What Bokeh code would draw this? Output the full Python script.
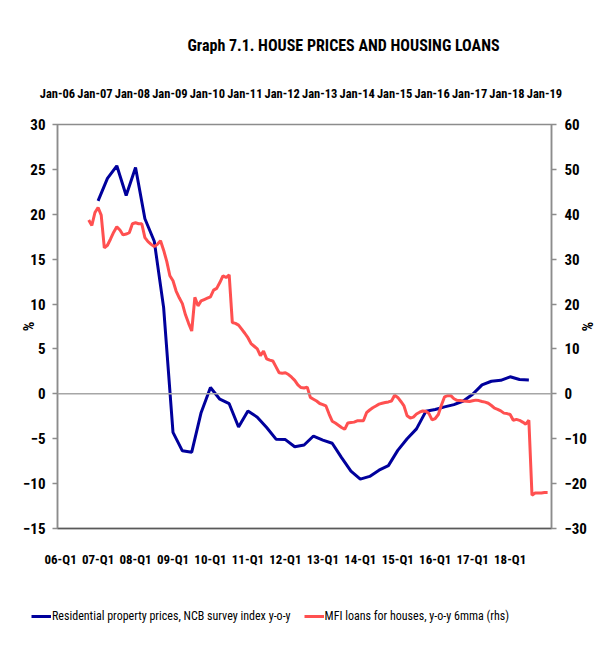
from bokeh.plotting import figure
from bokeh.models import Range1d, LinearAxis, FixedTicker, Span, Legend, LegendItem
from bokeh.embed import file_html
from bokeh.resources import INLINE

FONT = "Roboto Condensed, DejaVu Sans Condensed, Lato"

# ---- data (time axis in months since Jan-2006) ----
top_labels = ["Jan-06", "Jan-07", "Jan-08", "Jan-09", "Jan-10", "Jan-11", "Jan-12",
              "Jan-13", "Jan-14", "Jan-15", "Jan-16", "Jan-17", "Jan-18", "Jan-19"]
bottom_labels = ["06-Q1", "07-Q1", "08-Q1", "09-Q1", "10-Q1", "11-Q1", "12-Q1",
                 "13-Q1", "14-Q1", "15-Q1", "16-Q1", "17-Q1", "18-Q1"]

# Residential property prices, quarterly 2007-Q1 .. 2018-Q3 (y-o-y %)
house_first_quarter = (2007, 1)
house_prices = [21.5, 24.0, 25.4, 22.1, 25.2, 19.5, 17.0, 9.6, -4.3, -6.35,
                -6.5, -2.1, 0.7, -0.6, -1.1, -3.7, -1.9, -2.6, -3.75, -5.05,
                -5.1, -5.9, -5.7, -4.7, -5.15, -5.5, -7.1, -8.6, -9.5, -9.2,
                -8.5, -8.0, -6.3, -5.0, -3.9, -1.95, -1.75, -1.45, -1.2, -0.8,
                -0.05, 1.0, 1.4, 1.5, 1.9, 1.6, 1.55]

# MFI loans for houses, monthly Nov-2006 .. Feb-2019 (y-o-y 6mma, %)
loans_first_month = (2006, 11)
mfi_loans = [38.7, 37.5, 40.4, 41.5, 39.8, 32.5, 33.1, 34.5, 36.0, 37.2,
             36.5, 35.4, 35.6, 35.9, 37.9, 38.1, 37.9, 37.9, 34.8, 33.9,
             33.3, 32.8, 33.3, 34.1, 32.0, 29.5, 26.3, 25.2, 22.9, 21.4,
             20.1, 17.6, 15.7, 14.0, 21.5, 19.6, 20.7, 21.0, 21.3, 21.6,
             23.1, 23.5, 24.8, 26.3, 25.9, 26.5, 15.9, 15.7, 15.3, 14.4,
             13.5, 12.5, 11.2, 10.6, 10.0, 8.5, 9.5, 7.8, 7.5, 7.3,
             6.0, 4.7, 4.6, 4.7, 4.3, 3.7, 3.0, 2.0, 1.4, 1.3,
             1.5, -0.8, -1.2, -1.6, -2.15, -2.4, -2.7, -4.5, -6.1, -6.5,
             -7.0, -7.5, -7.9, -6.5, -6.4, -6.3, -6.0, -6.0, -6.0, -4.2,
             -3.6, -3.1, -2.7, -2.3, -2.1, -1.95, -1.8, -1.6, -0.3, -0.8,
             -1.7, -2.7, -4.9, -5.4, -5.2, -4.5, -4.1, -3.8, -3.9, -4.4,
             -5.8, -5.5, -4.6, -2.5, -0.67, -0.4, -0.4, -1.1, -1.45, -1.5,
             -1.6, -1.65, -1.7, -1.55, -1.4, -1.5, -1.7, -1.85, -2.1, -2.6,
             -3.2, -3.45, -3.8, -4.3, -4.4, -4.6, -5.9, -5.7, -5.9, -6.3,
             -6.75, -5.9, -22.6, -22.1, -22.1, -22.1, -22.0, -22.0]

left_ticks = [-15, -10, -5, 0, 5, 10, 15, 20, 25, 30]
right_ticks = [-30, -20, -10, 0, 10, 20, 30, 40, 50, 60]

house_label = "Residential property prices, NCB survey index y-o-y"
loans_label = "MFI loans for houses, y-o-y 6mma (rhs)"
title_text = "Graph 7.1. HOUSE PRICES AND HOUSING LOANS"

# ---- convert periods to months since Jan-2006 ----
def month_index(year, month):
    return (year - 2006) * 12 + (month - 1)

hy, hq = house_first_quarter
house_x = [month_index(hy, 3 * hq - 1) + 3 * i for i in range(len(house_prices))]  # mid-quarter
ly, lm = loans_first_month
loans_x = [month_index(ly, lm) + i for i in range(len(mfi_loans))]

top_tick_pos = [month_index(2006 + i, 1) for i in range(len(top_labels))]
bottom_tick_pos = [month_index(2006 + i, 2) for i in range(len(bottom_labels))]

house_color = "#00009c"
loans_color = "#ff5050"

# ---- main figure ----
p = figure(width=598, height=573, output_backend="svg", toolbar_location=None,
           x_range=Range1d(0, 158.25), y_range=Range1d(-15, 30),
           x_axis_location=None,
           min_border_left=57, min_border_right=46, min_border_top=124,
           min_border_bottom=45)
p.background_fill_color = "white"
p.border_fill_color = "white"
p.outline_line_color = "#8c8c8c"
p.outline_line_width = 1.5
p.ygrid.grid_line_color = None
p.xgrid.grid_line_color = None

p.title.text = title_text
p.title.text_font = FONT
p.title.text_font_size = "16px"
p.title.text_font_style = "bold"
p.title.text_color = "black"
p.title.align = "left"
p.title.offset = 130
p.title.standoff = 56

def style_axis(ax, size="15px"):
    ax.major_label_text_font = FONT
    ax.major_label_text_font_size = size
    ax.major_label_text_font_style = "bold"
    ax.major_label_text_color = "black"
    ax.minor_tick_line_color = None
    ax.major_tick_in = 0
    ax.axis_line_color = "#8c8c8c"
    ax.axis_line_width = 1.5
    ax.major_tick_line_color = "#8c8c8c"
    ax.major_tick_line_width = 1.5
    ax.axis_label_text_font = FONT
    ax.axis_label_text_font_size = "15px"
    ax.axis_label_text_font_style = "bold"
    ax.axis_label_text_color = "black"

# left axis
yl = p.yaxis[0]
yl.ticker = FixedTicker(ticks=left_ticks)
yl.axis_label = "%"
style_axis(yl)
yl.axis_label_standoff = -18
yl.major_tick_out = 5
yl.major_label_standoff = 7

# right axis
p.extra_y_ranges = {"rhs": Range1d(-30, 60)}
yr = LinearAxis(y_range_name="rhs", ticker=FixedTicker(ticks=right_ticks), axis_label="%")
style_axis(yr)
yr.major_tick_out = 5
yr.major_label_standoff = 8
yr.axis_label_standoff = -12
p.add_layout(yr, "right")

# bottom axis (quarter labels)
xb = LinearAxis(ticker=FixedTicker(ticks=bottom_tick_pos),
                major_label_overrides={t: l for t, l in zip(bottom_tick_pos, bottom_labels)})
style_axis(xb, "13px")
xb.major_tick_out = 0
xb.major_tick_line_color = None
xb.axis_line_color = "#595959"
xb.major_label_standoff = 23
p.add_layout(xb, "below")

# top axis (month labels)
xt = LinearAxis(ticker=FixedTicker(ticks=top_tick_pos),
                major_label_overrides={t: l for t, l in zip(top_tick_pos, top_labels)})
style_axis(xt, "12.5px")
xt.major_tick_out = 0
xt.major_tick_line_color = None
xt.axis_line_color = None
xt.major_label_standoff = 24
p.add_layout(xt, "above")

# zero line
p.add_layout(Span(location=0, dimension="width", line_color="#a6a6a6", line_width=1.5))

# series
p.line(house_x, house_prices, line_color=house_color, line_width=3)
p.line(loans_x, mfi_loans, line_color=loans_color, line_width=3, y_range_name="rhs")

# ---- legend strip (separate root below the chart; its own frame holds only the legend) ----
lf = figure(width=598, height=87, output_backend="svg", toolbar_location=None,
            x_range=Range1d(0, 1), y_range=Range1d(0, 1),
            x_axis_location=None, y_axis_location=None,
            min_border_left=0, min_border_right=0, min_border_top=0, min_border_bottom=0)
lf.title.visible = False
lf.outline_line_color = None
lf.xgrid.grid_line_color = None
lf.ygrid.grid_line_color = None
# same series; they fall outside this strip's 0..1 ranges, so only their legend swatches show
lh = lf.line(house_x, house_prices, line_color=house_color, line_width=3)
ll = lf.line(loans_x, mfi_loans, line_color=loans_color, line_width=3)
legend = Legend(items=[LegendItem(label=house_label, renderers=[lh]),
                       LegendItem(label=loans_label, renderers=[ll])],
                orientation="horizontal", location=(31, 37))
legend.label_text_font = FONT
legend.label_text_font_size = "12px"
legend.label_text_color = "black"
legend.glyph_width = 20
legend.glyph_height = 14
legend.label_standoff = 1
legend.spacing = 13
legend.padding = 0
legend.margin = 0
legend.border_line_color = None
legend.background_fill_alpha = 0
lf.add_layout(legend, "center")

open("out.html", "w").write(file_html([p, lf], INLINE))
